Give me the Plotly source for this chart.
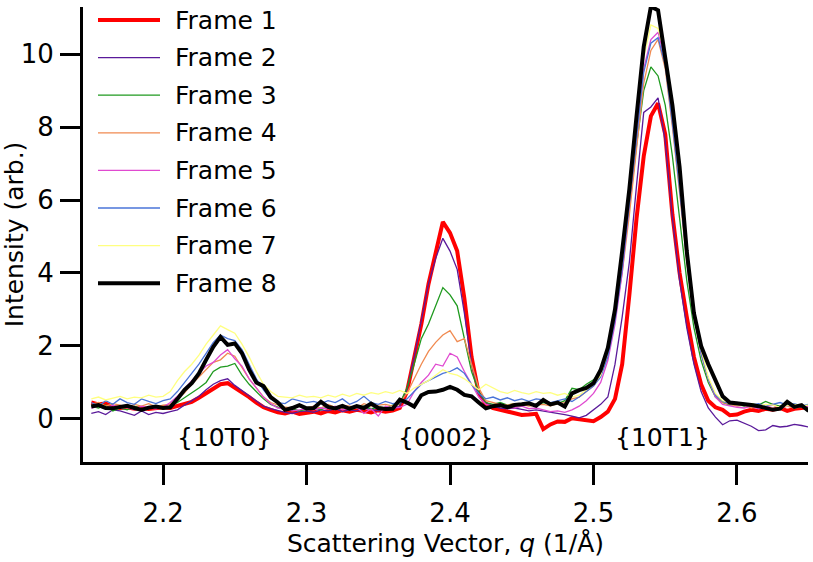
import numpy as np
import plotly.graph_objects as go

# ---------- data ----------
q = np.round(np.arange(2.150, 2.6501, 0.005), 3)

frame1 = [0.45, 0.40, 0.42, 0.33, 0.30, 0.32, 0.28, 0.30, 0.27, 0.30, 0.32,
          0.30, 0.35, 0.40, 0.47, 0.58, 0.70, 0.80, 0.95, 0.98, 0.86,
          0.74, 0.60, 0.45, 0.32, 0.25, 0.18, 0.15, 0.20, 0.14, 0.16,
          0.20, 0.15, 0.22, 0.18, 0.24, 0.20, 0.25, 0.22, 0.18, 0.24, 0.20, 0.23, 0.30,
          0.75, 1.70, 2.60, 3.70, 4.60, 5.40, 5.10, 4.60, 3.30, 1.70, 0.70, 0.40,
          0.30, 0.25, 0.20, 0.15, 0.11, 0.12, 0.14, -0.28, -0.15, -0.07, -0.08, 0.02, 0.00, -0.03, -0.06,
          0.05, 0.20, 0.55, 1.50, 3.40, 5.50, 7.20, 8.30, 8.65, 7.80,
          5.60, 4.00, 2.80, 1.70, 0.95, 0.50, 0.32, 0.25, 0.10, 0.12,
          0.20, 0.25, 0.22, 0.28, 0.25, 0.30, 0.22, 0.28, 0.30, 0.32]

frame2 = [0.15, 0.20, 0.12, 0.25, 0.22, 0.15, 0.10, 0.22, 0.12, 0.18, 0.15,
          0.20, 0.25, 0.38, 0.50, 0.62, 0.80, 0.95, 1.05, 1.10, 0.92,
          0.78, 0.62, 0.48, 0.35, 0.28, 0.22, 0.18, 0.15, 0.20, 0.22,
          0.18, 0.25, 0.22, 0.28, 0.20, 0.25, 0.22, 0.30, 0.25, 0.22, 0.30, 0.28, 0.35,
          0.80, 1.70, 2.70, 3.70, 4.40, 4.95, 4.60, 4.10, 2.90, 1.50, 0.70, 0.45,
          0.35, 0.30, 0.28, 0.30, 0.26, 0.22, 0.25, 0.22, 0.20, 0.16, 0.12, 0.08, 0.03, 0.10, 0.25,
          0.40, 0.60, 1.50, 2.80, 4.30, 6.40, 8.40, 8.55, 8.80, 7.60,
          5.50, 3.80, 2.50, 1.50, 0.75, 0.30, 0.05, -0.16, -0.05, -0.03,
          -0.12, -0.20, -0.32, -0.30, -0.18, -0.22, -0.20, -0.15, -0.18, -0.22]

frame3 = [0.35, 0.30, 0.38, 0.22, 0.30, 0.25, 0.35, 0.28, 0.30, 0.33, 0.28,
          0.35, 0.45, 0.58, 0.70, 0.85, 1.00, 1.30, 1.42, 1.45, 1.52,
          1.20, 0.95, 0.75, 0.55, 0.40, 0.32, 0.25, 0.28, 0.22, 0.26,
          0.30, 0.25, 0.35, 0.28, 0.32, 0.26, 0.30, 0.35, 0.28, 0.32, 0.30, 0.38, 0.42,
          0.85, 1.50, 2.20, 2.60, 3.10, 3.60, 3.40, 3.10, 2.20, 1.30, 0.75, 0.45,
          0.40, 0.45, 0.38, 0.42, 0.35, 0.40, 0.38, 0.45, 0.40, 0.42, 0.50, 0.84, 0.80, 0.95, 1.07,
          1.30, 2.00, 3.00, 4.40, 5.80, 7.50, 9.00, 9.65, 9.40, 8.60,
          7.20, 5.50, 3.80, 2.50, 1.60, 1.00, 0.60, 0.45, 0.38, 0.40,
          0.35, 0.42, 0.38, 0.48, 0.40, 0.35, 0.42, 0.30, 0.38, 0.32]

frame4 = [0.40, 0.45, 0.35, 0.42, 0.38, 0.30, 0.40, 0.35, 0.42, 0.33, 0.38,
          0.40, 0.55, 0.72, 0.95, 1.15, 1.35, 1.55, 1.62, 1.80, 1.72,
          1.40, 1.10, 0.85, 0.60, 0.45, 0.38, 0.32, 0.30, 0.35, 0.30,
          0.35, 0.30, 0.40, 0.32, 0.38, 0.35, 0.30, 0.42, 0.35, 0.38, 0.40, 0.35, 0.45,
          0.70, 1.10, 1.50, 1.85, 2.10, 2.30, 2.42, 2.12, 2.20, 1.50, 0.85, 0.50,
          0.45, 0.40, 0.38, 0.42, 0.40, 0.35, 0.38, 0.40, 0.36, 0.42, 0.45, 0.55, 0.60, 0.75, 0.90,
          1.20, 1.80, 2.80, 4.00, 5.60, 7.40, 9.20, 10.10, 10.40, 9.60,
          8.00, 6.20, 4.30, 2.80, 1.80, 1.10, 0.65, 0.45, 0.40, 0.35,
          0.38, 0.30, 0.35, 0.32, 0.40, 0.28, 0.35, 0.30, 0.33, 0.28]

frame5 = [0.30, 0.35, 0.28, 0.38, 0.30, 0.32, 0.25, 0.35, 0.30, 0.28, 0.32,
          0.45, 0.62, 0.85, 1.05, 1.25, 1.45, 1.55, 1.75, 1.90, 1.65,
          1.45, 1.10, 0.85, 0.60, 0.42, 0.30, 0.28, 0.22, 0.25, 0.28,
          0.25, 0.30, 0.28, 0.35, 0.25, 0.30, 0.32, 0.15, 0.28, 0.08, 0.35, 0.30, 0.32,
          0.40, 0.75, 1.00, 1.20, 1.50, 1.45, 1.80, 1.70, 1.30, 0.95, 0.60, 0.40,
          0.35, 0.40, 0.32, 0.30, 0.35, 0.28, 0.30, 0.25, 0.20, 0.22, 0.18, 0.25, 0.35, 0.50, 0.70,
          1.00, 1.60, 2.60, 4.00, 5.90, 7.80, 9.60, 10.40, 10.60, 9.80,
          8.20, 6.40, 4.40, 2.90, 1.80, 1.10, 0.60, 0.40, 0.35, 0.32,
          0.30, 0.35, 0.28, 0.32, 0.38, 0.30, 0.35, 0.40, 0.32, 0.35]

frame6 = [0.45, 0.35, 0.50, 0.40, 0.55, 0.45, 0.40, 0.55, 0.48, 0.42, 0.50,
          0.55, 0.75, 1.00, 1.25, 1.50, 1.80, 2.10, 2.30, 2.20, 2.15,
          1.90, 1.50, 1.10, 0.80, 0.55, 0.45, 0.42, 0.55, 0.50, 0.45,
          0.48, 0.42, 0.50, 0.45, 0.55, 0.40, 0.48, 0.62, 0.45, 0.40, 0.48, 0.42, 0.45,
          0.55, 0.75, 0.95, 1.05, 1.15, 1.25, 1.30, 1.40, 1.25, 0.95, 0.70, 0.55,
          0.60, 0.52, 0.58, 0.50, 0.55, 0.48, 0.55, 0.52, 0.45, 0.50, 0.55, 0.48, 0.60, 0.75, 0.90,
          1.15, 1.70, 2.70, 4.10, 5.90, 7.70, 9.50, 10.30, 10.45, 9.70,
          8.10, 6.30, 4.40, 2.90, 1.80, 1.10, 0.65, 0.48, 0.42, 0.45,
          0.40, 0.38, 0.42, 0.35, 0.40, 0.45, 0.38, 0.42, 0.35, 0.40]

frame7 = [0.55, 0.60, 0.52, 0.58, 0.62, 0.55, 0.60, 0.58, 0.65, 0.60, 0.62,
          0.75, 1.05, 1.30, 1.50, 1.75, 2.05, 2.30, 2.55, 2.45, 2.35,
          2.05, 1.70, 1.30, 0.95, 0.75, 0.62, 0.60, 0.58, 0.65, 0.60,
          0.62, 0.58, 0.65, 0.60, 0.68, 0.62, 0.70, 0.65, 0.72, 0.68, 0.75, 0.70, 0.78,
          0.70, 0.85, 0.95, 1.05, 1.20, 1.35, 1.25, 1.20, 1.10, 0.95, 0.80, 0.95,
          0.85, 0.75, 0.70, 0.78, 0.72, 0.68, 0.75, 0.70, 0.72, 0.65, 0.70, 0.60, 0.65, 0.80, 0.95,
          1.20, 1.90, 2.90, 4.40, 6.30, 8.20, 9.90, 10.80, 10.70, 10.00,
          8.50, 6.60, 4.60, 3.00, 1.90, 1.15, 0.70, 0.50, 0.45, 0.42,
          0.38, 0.42, 0.35, 0.40, 0.38, 0.32, 0.36, 0.40, 0.35, 0.38]

frame8 = [0.34, 0.38, 0.30, 0.29, 0.33, 0.36, 0.30, 0.25, 0.31, 0.34, 0.30,
          0.32, 0.55, 0.80, 0.98, 1.25, 1.62, 1.98, 2.25, 2.03, 2.07,
          1.80, 1.35, 1.00, 0.90, 0.60, 0.45, 0.25, 0.30, 0.38, 0.29,
          0.30, 0.47, 0.33, 0.29, 0.36, 0.28, 0.35, 0.30, 0.42, 0.30, 0.27, 0.28, 0.53,
          0.45, 0.34, 0.65, 0.74, 0.75, 0.80, 0.88, 0.80, 0.66, 0.62, 0.45, 0.29,
          0.35, 0.38, 0.32, 0.38, 0.40, 0.43, 0.36, 0.52, 0.40, 0.45, 0.34, 0.70, 0.79, 0.85, 0.98,
          1.34, 1.95, 3.00, 4.60, 6.30, 8.30, 10.20, 11.30, 11.20, 9.90,
          8.60, 6.90, 4.60, 2.90, 2.00, 1.50, 1.05, 0.62, 0.45, 0.43,
          0.42, 0.38, 0.35, 0.30, 0.25, 0.28, 0.47, 0.33, 0.38, 0.22]

names = ["Frame 1", "Frame 2", "Frame 3", "Frame 4", "Frame 5", "Frame 6", "Frame 7", "Frame 8"]
series = [frame1, frame2, frame3, frame4, frame5, frame6, frame7, frame8]
colors = ["#ff0000", "#5a1a9a", "#1f9a1f", "#f08a50", "#e04ad0", "#4a74d8", "#ffff80", "#000000"]
widths = [4, 1.3, 1.3, 1.3, 1.3, 1.3, 1.3, 4]

peak_labels = ["{10T0}", "{0002}", "{10T1}"]
peak_q = [2.243, 2.3965, 2.548]

FONT = "DejaVu Sans"

fig = go.Figure()
for name, y, c, w in zip(names, series, colors, widths):
    fig.add_trace(go.Scatter(x=q, y=y, mode="lines", name=name,
                             line=dict(color=c, width=w), showlegend=False))

# hand-made legend, top left inside the axes
L, R, T, B = 83, 808, 7, 462
row_h = 37.6
for k, (name, c, w) in enumerate(zip(names, colors, widths)):
    yp = (B - (20 + row_h * k)) / (B - T)
    fig.add_shape(type="line", xref="paper", yref="paper",
                  x0=(98 - L) / (R - L), x1=(160 - L) / (R - L), y0=yp, y1=yp,
                  line=dict(color=c, width=w))
    fig.add_annotation(text=name, xref="paper", yref="paper",
                       x=(173 - L) / (R - L), y=yp, xanchor="left", yanchor="middle",
                       showarrow=False, font=dict(size=25, color="black", family=FONT))

for lab, xq in zip(peak_labels, peak_q):
    fig.add_annotation(text=lab, x=xq, y=-0.52, showarrow=False,
                       xanchor="center", yanchor="middle",
                       font=dict(size=25, color="black", family=FONT))

axis_common = dict(showline=True, linewidth=3, linecolor="black", ticks="outside",
                   ticklen=20, tickwidth=3, tickcolor="black", showgrid=False,
                   zeroline=False, automargin=False,
                   tickfont=dict(size=26, color="black", family=FONT))

fig.update_xaxes(range=[2.1442, 2.6495], tickvals=[2.2, 2.3, 2.4, 2.5, 2.6],
                 ticktext=["2.2", "2.3", "2.4", "2.5", "2.6"],
                 ticklabelstandoff=6,
                 title=dict(text="Scattering Vector, <i>q</i> (1/Å)", standoff=8,
                            font=dict(size=25, color="black", family=FONT)),
                 **axis_common)
fig.update_yaxes(range=[-1.18, 11.29], tickvals=[0, 2, 4, 6, 8, 10],
                 ticklabelstandoff=1,
                 title=dict(text="Intensity (arb.)", standoff=4,
                            font=dict(size=25, color="black", family=FONT)),
                 **axis_common)

fig.update_layout(width=813, height=562, plot_bgcolor="white", paper_bgcolor="white",
                  margin=dict(l=L, r=813 - R, t=T, b=562 - B),
                  font=dict(family=FONT, color="black"))

# page body margin would shift the chart by 8 px
fig.write_html("out.html", config={"displayModeBar": False},
               post_script="document.body.style.margin='0';")
